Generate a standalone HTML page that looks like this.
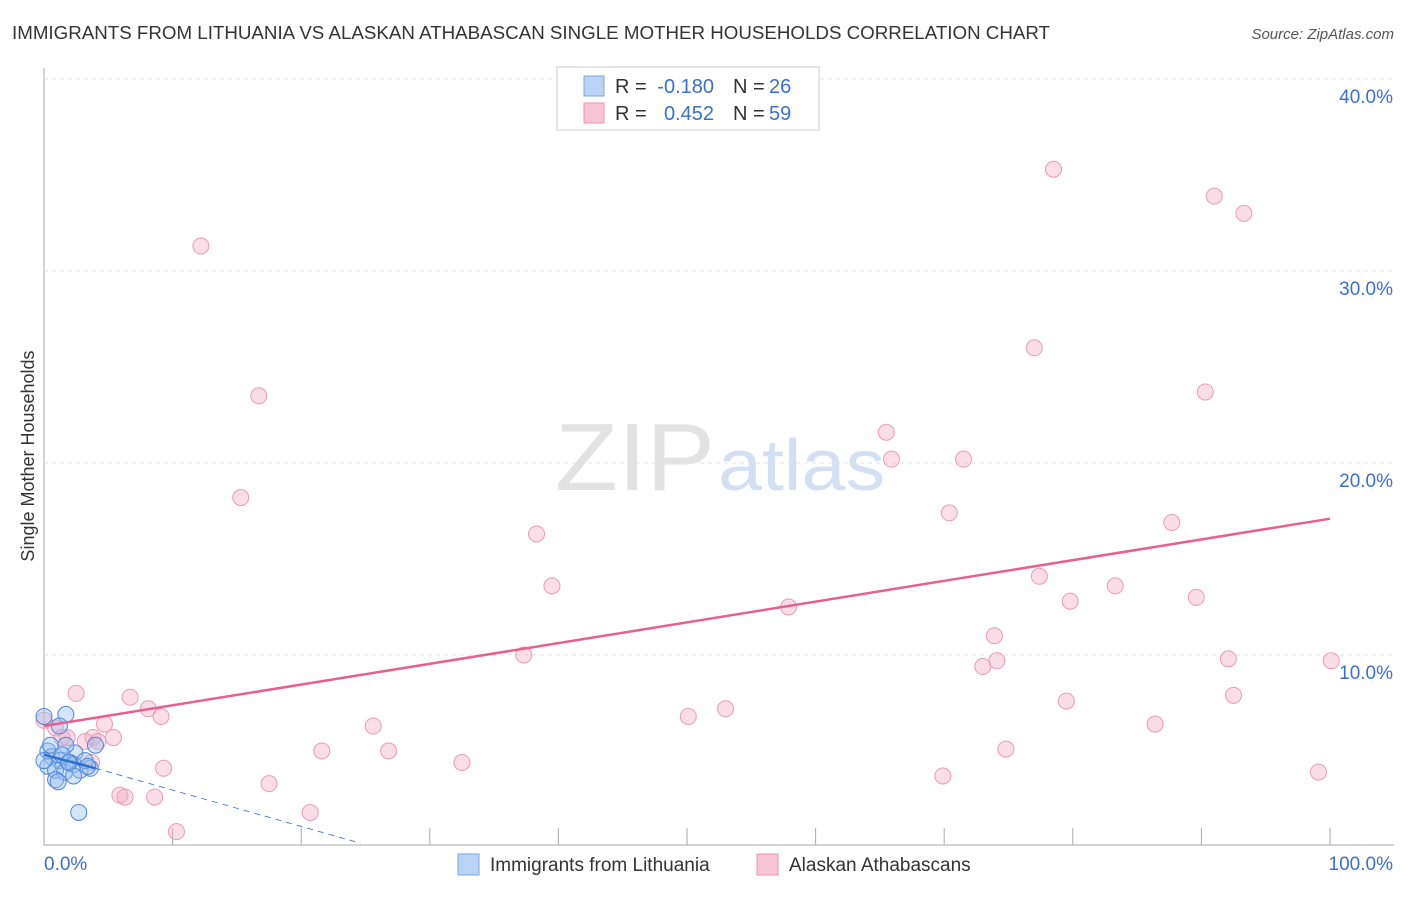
<!DOCTYPE html>
<html><head><meta charset="utf-8"><style>
body{margin:0;background:#fff;font-family:"Liberation Sans",sans-serif;}
svg text{font-family:"Liberation Sans",sans-serif;}
</style></head><body>
<svg id="chart" width="1406" height="892">
<text x="12" y="39" font-size="18" fill="#333" textLength="1038" lengthAdjust="spacingAndGlyphs">IMMIGRANTS FROM LITHUANIA VS ALASKAN ATHABASCAN SINGLE MOTHER HOUSEHOLDS CORRELATION CHART</text>
<text x="1394" y="39" font-size="15" fill="#555" font-style="italic" text-anchor="end">Source: ZipAtlas.com</text>
<text x="34" y="456" font-size="18" fill="#333" transform="rotate(-90 34 456)" text-anchor="middle">Single Mother Households</text>
<text x="555" y="490" font-size="96" fill="#e2e2e2" textLength="160" lengthAdjust="spacingAndGlyphs" font-family="Liberation Serif">ZIP</text>
<text x="718" y="490" font-size="72" fill="#d3e0f3" textLength="167" lengthAdjust="spacingAndGlyphs">atlas</text>
<g id="grid"></g><g id="marks"></g>
<g>
<rect x="557" y="67" width="262" height="63" fill="#fff" stroke="#ccc"/>
<rect x="584" y="76" width="20" height="20" fill="#b8d3f5" stroke="#7aa7e0"/>
<rect x="584" y="103" width="20" height="20" fill="#f8c3d3" stroke="#eb93b0"/>
<text x="615" y="93" font-size="20" fill="#333">R =</text>
<text x="714" y="93" font-size="20" fill="#3a6fd0" text-anchor="end">-0.180</text>
<text x="733" y="93" font-size="20" fill="#333">N =</text>
<text x="769" y="93" font-size="20" fill="#3a6fd0">26</text>
<text x="615" y="120" font-size="20" fill="#333">R =</text>
<text x="714" y="120" font-size="20" fill="#3a6fd0" text-anchor="end">0.452</text>
<text x="733" y="120" font-size="20" fill="#333">N =</text>
<text x="769" y="120" font-size="20" fill="#3a6fd0">59</text>
</g>
<g>
<rect x="458" y="854" width="21" height="21" fill="#b8d3f5" stroke="#7aa7e0"/>
<text x="490" y="871" font-size="19" fill="#333">Immigrants from Lithuania</text>
<rect x="757" y="854" width="21" height="21" fill="#f8c3d3" stroke="#eb93b0"/>
<text x="789" y="871" font-size="19" fill="#333">Alaskan Athabascans</text>
</g>
</svg>
<script>
const yTicks=[10,20,30,40];
const xTickLabels=["0.0%","100.0%"];
const pinkX=[12.2,16.7,15.3,78.5,91,93.3,77,90.3,65.5,65.9,71.5,70.4,38.3,87.7,39.5,77.4,83.3,79.8,89.6,57.9,73.9,37.3,92.1,74.1,73,100.1,2.5,6.7,8.1,9.1,4.7,79.5,53,50.1,86.4,92.5,25.6,5.4,1.8,3.8,4.2,21.6,26.8,74.8,32.5,9.3,3.7,99.1,69.9,17.5,5.9,6.3,8.6,20.7,10.3,0,0.9,1.4,3.2];
const pinkY=[31.3,23.5,18.2,35.3,33.9,33,26,23.7,21.6,20.2,20.2,17.4,16.3,16.9,13.6,14.1,13.6,12.8,13,12.5,11,10,9.8,9.7,9.4,9.7,8,7.8,7.2,6.8,6.4,7.6,7.2,6.8,6.4,7.9,6.3,5.7,5.7,5.7,5.5,5,5,5.1,4.4,4.1,4.4,3.9,3.7,3.3,2.7,2.6,2.6,1.8,0.8,6.6,6.2,5.7,5.5];
const blueX=[0,1.7,1.2,4,2.4,0.3,0.6,1.2,2,0.3,0.9,1.6,2.3,2.8,3.6,0.9,1.1,2.3,1.7,0.5,1.4,3.2,2.7,1.9,0,3.4];
const blueY=[6.8,6.9,6.3,5.3,4.9,5,4.7,4.5,4.4,4.2,4,3.9,4.3,4,4.1,3.5,3.4,3.7,5.3,5.3,4.8,4.5,1.8,4.4,4.5,4.2];
const pinkTrend=[0,6.3,100,17.1];
const blueTrend=[0,4.8,4,4.1,24.6,0.2];
const X=v=>44+v*12.86, Y=v=>847-v*19.2;
const NS="http://www.w3.org/2000/svg";
const g=document.getElementById('grid'),m=document.getElementById('marks');
function el(t,a,p){const e=document.createElementNS(NS,t);for(const k in a)e.setAttribute(k,a[k]);p.appendChild(e);return e;}
let ax=el('line',{x1:44,y1:68,x2:44,y2:845,stroke:'#aaa'},g);


let bx=el('line',{x1:44,y1:845,x2:1394,y2:845,stroke:'#aaa'},g);


yTicks.forEach(t=>{
 let l=el('line',{x1:44,y1:Y(t),x2:1394,y2:Y(t),stroke:'#e2e2e2','stroke-dasharray':'4,4'},g);
 
 
 let tx=el('text',{x:1393,y:Y(t)+24,'font-size':19,fill:'#3a6fd0','text-anchor':'end'},g);tx.textContent=t.toFixed(1)+'%';
 
 
});
for(let i=1;i<=10;i++){let l=el('line',{x1:X(i*10),y1:828,x2:X(i*10),y2:845,stroke:'#aaa'},g);
 
 }
[[44,'start',0],[1393,'end',1]].forEach(([x,a,i])=>{let t=el('text',{x:x,y:870,'font-size':19,fill:'#3a6fd0','text-anchor':a},g);t.textContent=xTickLabels[i];
 
 });
pinkX.forEach((x,i)=>{let c=el('circle',{cx:X(x),cy:Y(pinkY[i]),r:8,fill:'rgba(245,170,195,0.4)',stroke:'#eb9ab5','stroke-width':1},m);
 
 });
blueX.forEach((x,i)=>{let c=el('circle',{cx:X(x),cy:Y(blueY[i]),r:8,fill:'rgba(150,190,240,0.4)',stroke:'#4f86d8','stroke-width':1},m);
 
 });
let pl=el('line',{x1:X(pinkTrend[0]),y1:Y(pinkTrend[1]),x2:X(pinkTrend[2]),y2:Y(pinkTrend[3]),stroke:'#e8608e','stroke-width':2.5},m);


let bl=el('line',{x1:X(blueTrend[0]),y1:Y(blueTrend[1]),x2:X(blueTrend[2]),y2:Y(blueTrend[3]),stroke:'#2f6fd0','stroke-width':2.5},m);


let bd=el('line',{x1:X(blueTrend[2]),y1:Y(blueTrend[3]),x2:X(blueTrend[4]),y2:Y(blueTrend[5]),stroke:'#4f86d8','stroke-width':1,'stroke-dasharray':'6,5'},m);


</script>
</body></html>
